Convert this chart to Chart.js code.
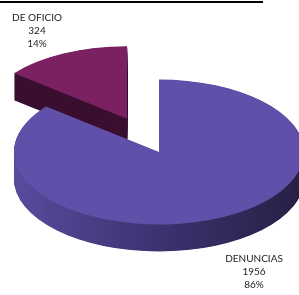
<!DOCTYPE html>
<html>
<head>
<meta charset="utf-8">
<script src="https://cdn.jsdelivr.net/npm/chart.js@4"></script>
<style>
  html, body { margin: 0; padding: 0; background: #fff; }
  #wrap { position: relative; width: 299px; height: 295px; overflow: hidden; }
  #pie { position: absolute; left: 0; top: 0; }
  /* underline of the (cropped) title */
  #rule { position: absolute; left: 0; top: 1px; width: 263px; height: 2px; background: #000; }
</style>
</head>
<body>
<div id="wrap">
  <canvas id="pie" width="299" height="295"></canvas>
  <div id="rule"></div>
</div>
<script>
const categories = ['DENUNCIAS', 'DE OFICIO'];
const counts = [1956, 324];

const topColors = ['#6150a9', '#7b2162'];

// extruded 3d look: squash the pie vertically and stack the slice downwards
const pie3d = {
    id: 'pie3d',
    beforeDatasetsDraw(chart, args, opts) {
        const ctx = chart.ctx;
        const arcs = chart.getDatasetMeta(0).data;
        const cy = arcs[0].y;
        const depth = opts.depth / opts.tilt;

        ctx.save();
        ctx.translate(0, cy);
        ctx.scale(1, opts.tilt);
        ctx.translate(0, -cy);

        // back slice (exploded) first, big slice on top of it
        for (let i = arcs.length - 1; i >= 0; i--) {
            const arc = arcs[i];
            const { x, y, startAngle, endAngle, outerRadius } =
                arc.getProps(['x', 'y', 'startAngle', 'endAngle', 'outerRadius'], true);
            const mid = (startAngle + endAngle) / 2;
            const ex = opts.explode[i] || 0;
            const dx = Math.cos(mid) * ex;
            const dy = Math.sin(mid) * ex;

            let side = opts.sideColors[i];
            if (Array.isArray(side)) {
                const g = ctx.createLinearGradient(x - outerRadius, 0, x + outerRadius, 0);
                side.forEach((c, j) => g.addColorStop(j / (side.length - 1), c));
                side = g;
            }
            ctx.fillStyle = side;
            for (let k = depth; k > 0; k -= 1) {
                ctx.beginPath();
                ctx.moveTo(x + dx, y + dy + k);
                ctx.arc(x + dx, y + dy + k, outerRadius, startAngle, endAngle);
                ctx.closePath();
                ctx.fill();
            }

            ctx.save();
            ctx.translate(dx, dy);
            arc.draw(ctx);
            ctx.restore();
        }
        ctx.restore();
        return false;
    }
};

const sliceLabels = {
    id: 'sliceLabels',
    afterDraw(chart, args, opts) {
        const ctx = chart.ctx;
        const total = counts.reduce((a, b) => a + b, 0);
        ctx.save();
        ctx.font = opts.font;
        ctx.fillStyle = opts.color;
        ctx.textAlign = 'center';
        ctx.textBaseline = 'middle';
        categories.forEach((cat, i) => {
            const [lx, ly] = opts.anchors[i];
            const lines = [cat, String(counts[i]), Math.round(counts[i] / total * 100) + '%'];
            lines.forEach((t, j) => ctx.fillText(t, lx, ly + j * opts.lineHeight));
        });
        ctx.restore();
    }
};

new Chart(document.getElementById('pie'), {
    type: 'pie',
    data: {
        labels: categories,
        datasets: [{
            data: counts,
            backgroundColor: topColors,
            borderWidth: 0,
            clip: false
        }]
    },
    options: {
        responsive: false,
        animation: false,
        events: [],
        radius: 145,
        layout: { padding: { left: 19, top: 9 } },
        plugins: {
            legend: { display: false },
            tooltip: { enabled: false },
            pie3d: {
                tilt: 0.5,
                depth: 27,
                explode: [0, 74],
                sideColors: [['#5a4a9e', '#3c3270', '#262043'], '#3b1030']
            },
            sliceLabels: {
                font: '10px Lato, "DejaVu Sans", sans-serif',
                color: '#222',
                lineHeight: 13,
                anchors: [[37, 18], [254, 259]].reverse()
            }
        }
    },
    plugins: [pie3d, sliceLabels]
});
</script>
</body>
</html>
